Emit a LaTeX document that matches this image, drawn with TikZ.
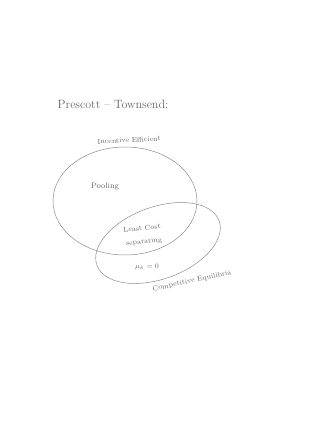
\documentclass[tikz,border=0pt]{standalone}
\begin{document}
\begin{tikzpicture}[x=1pt,y=1pt]
  \tikzset{lbl/.style={text=black!60,inner sep=0pt,font=\fontsize{7}{8}\selectfont}}
  \useasboundingbox (0,0) rectangle (328,426);
  \draw[black!45,line width=0.5pt] (125,225) ellipse [x radius=72,y radius=54];
  \draw[black!45,line width=0.5pt,rotate around={20:(158,183)}] (158,183) ellipse [x radius=65,y radius=36];
  \node[lbl,font=\fontsize{12}{14}\selectfont] (title) at (113,322) {Prescott -- Townsend:};
  \node[lbl,rotate=3] (ie) at (129,286) {Incentive Efficient};
  \node[lbl,font=\fontsize{8}{9}\selectfont] (pool) at (105,239) {Pooling};
  \node[lbl,rotate=6] (lc) at (142,198) {Least Cost};
  \node[lbl,rotate=6] (sep) at (144,184) {separating};
  \node[lbl] (mu) at (147,159) {$\mu_k=0$};
  \node[lbl,rotate=12] (ce) at (192,145) {Competitive Equilibria};
\end{tikzpicture}
\end{document}
